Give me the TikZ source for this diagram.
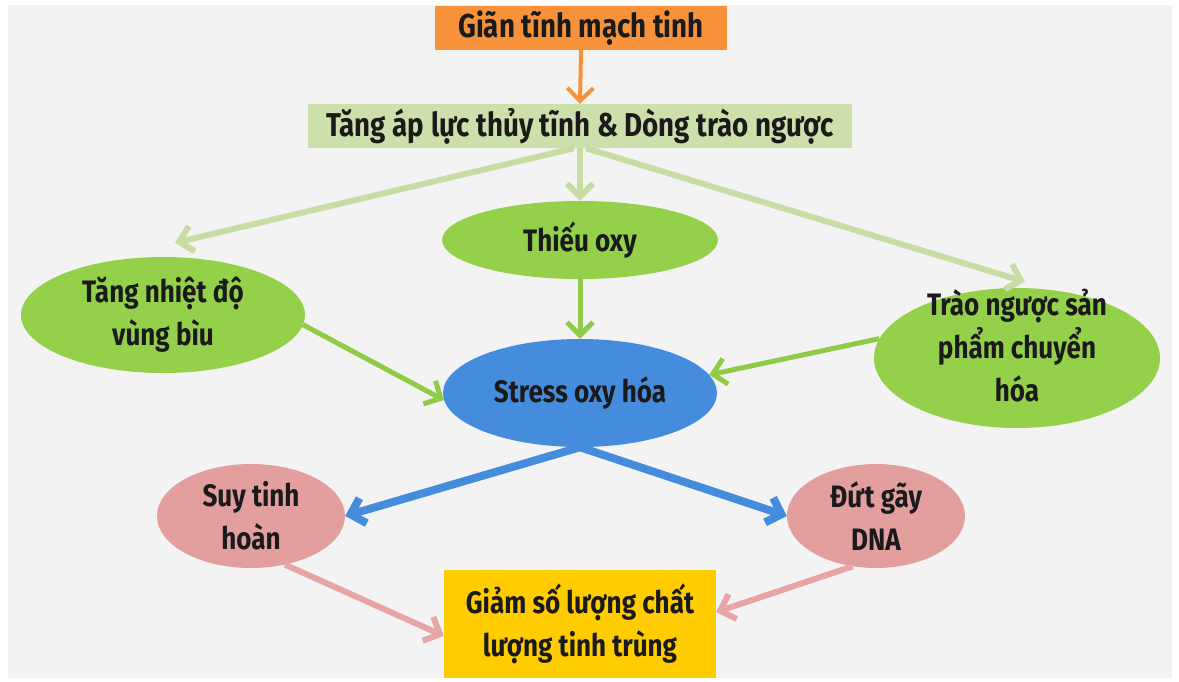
\documentclass[tikz,border=0pt]{standalone}
\usepackage{fontspec}
\setmainfont{Fira Sans}[FakeStretch=0.84]
\usetikzlibrary{shapes.geometric,arrows.meta}
\definecolor{bgc}{HTML}{F3F3F3}
\definecolor{orangec}{HTML}{F7923A}
\definecolor{boxgreen}{HTML}{CDE0AC}
\definecolor{lgarrow}{HTML}{C8DDA4}
\definecolor{ellgreen}{HTML}{94D04A}
\definecolor{garrow}{HTML}{8FCB46}
\definecolor{bluec}{HTML}{468CDC}
\definecolor{pinkc}{HTML}{E39F9E}
\definecolor{pinkarrow}{HTML}{E8A5A5}
\definecolor{yellowc}{HTML}{FFCC00}
\definecolor{txt}{HTML}{1A1A1A}
\tikzset{
  boxnode/.style={rectangle,inner sep=0pt,text=txt,font=\fontsize{33}{38}\selectfont\bfseries,align=center},
  ellnode/.style={ellipse,inner sep=0pt,text=txt,font=\fontsize{31}{43}\selectfont\bfseries,align=center},
  lbl/.style={inner sep=0pt,text=txt,font=\fontsize{31}{43}\selectfont\bfseries,align=center},
  arr/.style={-{Straight Barb[length=13pt,width=26pt,line width=#1]},line width=#1},
}
\begin{document}
\begin{tikzpicture}[x=1pt,y=-1pt]
\useasboundingbox (0,0) rectangle (1179,681);
\fill[white] (0,0) rectangle (1179,681);
\fill[bgc] (8,5) rectangle (1172,678);
% nodes
\node[boxnode,fill=orangec,minimum width=292pt,minimum height=44pt] (top) at (581,28) {Giãn tĩnh mạch tinh};
\node[boxnode,fill=boxgreen,minimum width=544pt,minimum height=44pt] (tang) at (580,126) {Tăng áp lực thủy tĩnh \& Dòng trào ngược};
\node[ellnode,fill=ellgreen,minimum width=276pt,minimum height=78pt] (thieu) at (580,240) {Thiếu oxy};
\node[ellnode,fill=ellgreen,minimum width=284pt,minimum height=116pt] (nhiet) at (163,315) {Tăng nhiệt độ\\vùng bìu};
\node[ellnode,fill=ellgreen,minimum width=286pt,minimum height=140pt] (trao) at (1017,358) {};
\node[lbl] (traot) at (1017,346) {Trào ngược sản\\phẩm chuyển\\hóa};
\node[ellnode,fill=bluec,minimum width=274pt,minimum height=108pt] (stress) at (580,393) {Stress oxy hóa};
\node[ellnode,fill=pinkc,minimum width=188pt,minimum height=104pt] (suy) at (251,516) {Suy tinh\\hoàn};
\node[ellnode,fill=pinkc,minimum width=178pt,minimum height=104pt] (dut) at (876,516) {Đứt gãy\\DNA};
\node[boxnode,fill=yellowc,minimum width=272pt,minimum height=108pt,font=\fontsize{31}{43}\selectfont\bfseries] (giam) at (580,624) {Giảm số lượng chất\\lượng tinh trùng};
% connectors
\draw[arr=4pt,orangec] (top.south) -- (tang.north);
\draw[arr=6pt,lgarrow] (tang.south) -- (thieu.north);
\draw[arr=6pt,lgarrow] ([xshift=-6pt]tang.south) -- ([xshift=12pt,yshift=14pt]nhiet.north);
\draw[arr=6pt,lgarrow] ([xshift=6pt]tang.south) -- ([xshift=8pt,yshift=6pt]trao.north);
\draw[arr=5pt,garrow] (thieu.south) -- (stress.north);
\draw[arr=5pt,garrow] (nhiet.-4) -- (stress.183);
\draw[arr=5pt,garrow] (trao.172) -- (stress.8);
\draw[arr=8pt,bluec] (stress.south) -- (suy.east);
\draw[arr=8pt,bluec] (stress.south) -- (dut.west);
\draw[arr=6pt,pinkarrow] (suy.-55) -- (giam.185);
\draw[arr=6pt,pinkarrow] (dut.-115) -- (giam.5);
\end{tikzpicture}
\end{document}
